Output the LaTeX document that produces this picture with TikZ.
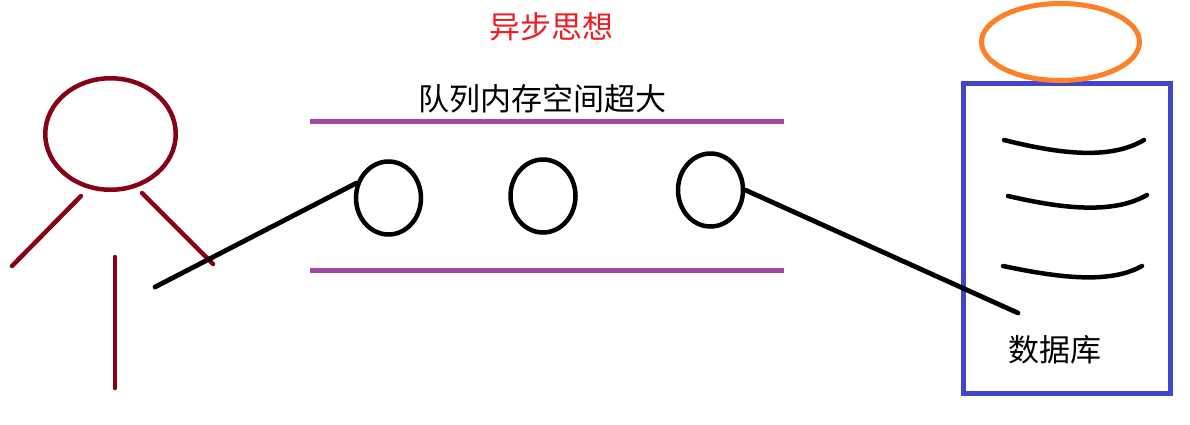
\documentclass[tikz,border=0pt]{standalone}
\usepackage{fontspec}
\usepackage{tikz}
\usetikzlibrary{positioning}
\usetikzlibrary{shapes.geometric}
\newfontfamily\cjk{Noto Sans CJK SC}
\definecolor{darkred}{RGB}{136,0,21}
\definecolor{queuepurple}{RGB}{163,73,164}
\definecolor{titlered}{RGB}{237,28,36}
\definecolor{dbblue}{RGB}{63,72,204}
\definecolor{caporange}{RGB}{255,127,39}
\tikzset{
  ball/.style={draw=black,line width=4.5pt,ellipse,inner sep=0pt,minimum width=65pt,minimum height=73pt},
  limb/.style={draw=darkred,line width=4.5pt,line cap=round},
  rail/.style={draw=queuepurple,line width=4.8pt},
  wire/.style={draw=black,line width=4.8pt,line cap=round},
  shelf/.style={draw=black,line width=4.5pt,line cap=round},
  caption/.style={font=\cjk\fontsize{31}{31}\selectfont,inner sep=0pt}
}
\begin{document}
\begin{tikzpicture}[x=1pt,y=-1pt]
 \useasboundingbox (0,0) rectangle (1190,424);
 % person
 \node[ball,draw=darkred,minimum width=130.5pt,minimum height=111.5pt] (head) at (110.5,134) {};
 \coordinate (armla) at (81,196);
 \coordinate (armlb) at (12,266);
 \coordinate (armra) at (142,193);
 \coordinate (armrb) at (213,264);
 \coordinate (bodya) at (115,257);
 \coordinate (bodyb) at (115,388);
 \draw[limb] (armla)--(armlb);
 \draw[limb] (armra)--(armrb);
 \draw[limb] (bodya)--(bodyb);
 % queue
 \node[caption,text=titlered] (title) at (551,27) {异步思想};
 \node[caption] (queuetext) at (542,99) {队列内存空间超大};
 \coordinate (railta) at (310,121.5);
 \coordinate (railtb) at (784,121.5);
 \coordinate (railba) at (310,270.5);
 \coordinate (railbb) at (784,270.5);
 \draw[rail] (railta)--(railtb);
 \draw[rail] (railba)--(railbb);
 \node[ball] (msga) at (388.5,198) {};
 \node[ball] (msgb) at (543,196) {};
 \node[ball] (msgc) at (710.5,190) {};
 % database
 \node[draw=dbblue,line width=5pt,minimum width=206.5pt,minimum height=309.5pt,inner sep=0pt] (db) at (1067,238.5) {};
 \node[ellipse,draw=caporange,line width=5pt,minimum width=158pt,minimum height=77pt,inner sep=0pt] (cap) at (1060.5,42) {};
 \draw[shelf] (1004,140) .. controls (1060,154) and (1110,160) .. (1144,140);
 \draw[shelf] (1008,196) .. controls (1060,208) and (1112,215) .. (1147,195);
 \draw[shelf] (1003,266) .. controls (1060,278) and (1110,284) .. (1142,266);
 \node[caption] (dbtext) at (1055,350) {数据库};
 % connectors
 \coordinate (hand) at (155,287);
 \coordinate (dbin) at (1018,313);
 \draw[wire] (hand)--(msga.155);
 \draw[wire] (msgc.east)--(dbin);
\end{tikzpicture}
\end{document}
